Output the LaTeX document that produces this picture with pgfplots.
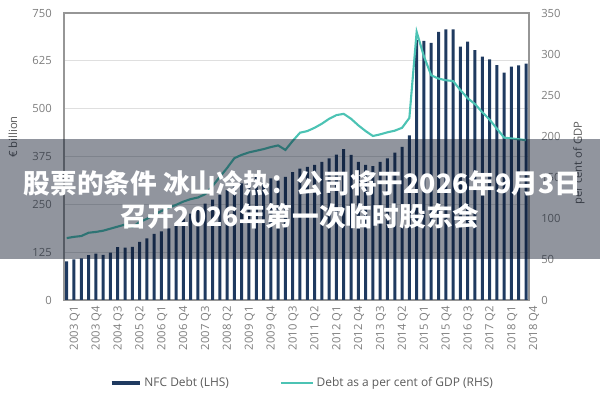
\documentclass[border=0pt]{standalone}
\usepackage{fontspec}
\setmainfont{Open Sans}
\newfontfamily\cjk{Noto Sans CJK SC}
\usepackage{pgfplots}
\usepackage{pgfplotstable}
\pgfplotsset{compat=1.18}

\definecolor{navy}{RGB}{31,58,96}
\definecolor{tealc}{RGB}{76,195,180}
\definecolor{tickgray}{RGB}{125,125,125}
\definecolor{txtgray}{RGB}{90,90,90}
\definecolor{frame}{RGB}{150,150,150}
\definecolor{banner}{RGB}{10,20,40}

% q = quarter index from 2003 Q1, debt in EUR bn, gdp in per cent
\pgfplotstableread{
q debt gdp
0 101 75.5
1 106 77
2 109 78
3 117 82
4 121 83
5 118 84.5
6 124 87
7 138 89.5
8 137 92
9 139 89
10 152 95
11 161 99
12 173 104
13 179 108.5
14 187 112.5
15 200 116
16 213 120
17 226 123
18 239 125
19 252 129
20 262 139
21 275 150
22 287 161
23 297 173
24 305 177
25 313 180
26 321 182
27 318 184
28 318 186.5
29 312 188.5
30 322 183
31 334 194
32 343 204
33 348 206
34 353 210
35 361 215
36 370 221
37 380 225.5
38 394 227
39 379 221
40 361 213
41 353 206
42 350 200
43 361 202
44 370 204.5
45 385 206.5
46 400 210
47 430 222
48 679 327
49 677 297
50 672 274
51 701 270
52 707 268
53 707 267
54 662 256
55 675 246
56 653 239
57 636 229
58 629 220
59 614 209
60 594 198
61 610 197
62 613 196
63 618 195
}\datatable

\begin{document}
\begin{tikzpicture}
\useasboundingbox (0,0) rectangle (15,10);
\pgfplotsset{
  common/.style={
    at={(1.6cm,2.5cm)}, anchor=south west,
    scale only axis, width=11.625cm, height=7.175cm,
    xmin=-0.37, xmax=63.41,
    tick style={draw=none},
    axis line style={draw=frame, line width=0.8pt},
    ticklabel style={font=\fontsize{8}{9}\selectfont, text=tickgray},
    /pgf/number format/assume math mode=true,
  }
}
\begin{axis}[common,
  ybar, bar width=0.075cm,
  ymin=0, ymax=750, ytick={0,125,...,750},
  ymajorgrids, grid style={draw=gray!25, line width=0.6pt},
  xtick={0,3,...,63},
  xticklabels={2003 Q1,2003 Q4,2004 Q3,2005 Q2,2006 Q1,2006 Q4,2007 Q3,2008 Q2,2009 Q1,2009 Q4,2010 Q3,2011 Q2,2012 Q1,2012 Q4,2013 Q3,2014 Q2,2015 Q1,2015 Q4,2016 Q3,2017 Q2,2018 Q1,2018 Q4},
  xticklabel style={rotate=90, anchor=east, inner sep=0pt, yshift=-0.2cm},
  yticklabel style={anchor=east, inner sep=0pt, xshift=-0.3cm},
  ylabel={€ billion},
  ylabel style={at={(axis description cs:-0.11,0.568)}, anchor=center, font=\fontsize{8}{9}\selectfont, text=txtgray},
]
\addplot[fill=navy, draw=none] table[x=q, y=debt] {\datatable};
\end{axis}
\begin{axis}[common,
  axis y line*=right, axis x line=none,
  ymin=0, ymax=350, ytick={0,50,...,350},
  yticklabel style={anchor=west, inner sep=0pt, xshift=0.3cm},
  ylabel={per cent of GDP},
  ylabel style={at={(axis description cs:1.1075,0.477)}, anchor=center, font=\fontsize{8}{9}\selectfont, text=txtgray},
  legend style={at={(axis description cs:0.088,-0.288)}, anchor=west, draw=none, fill=none,
    font=\fontsize{8.5}{10}\selectfont, text=txtgray, legend columns=2,
    /tikz/every even column/.append style={column sep=1.2cm}},
]
\addlegendimage{legend image code/.code={\draw[navy, line width=3pt] (0cm,0cm) -- (0.7cm,0cm);}}
\addlegendentry{NFC Debt (LHS)}
\addplot[tealc, line width=1.5pt, mark=none,
  legend image code/.code={\draw[tealc, line width=1.5pt] (0cm,0cm) -- (0.8cm,0cm);}]
  table[x=q, y=gdp] {\datatable};
\addlegendentry{Debt as a per cent of GDP (RHS)}
\end{axis}
\fill[banner, opacity=0.45] (0,3.525) rectangle (15,6.525);
\node[text=white, font=\cjk\bfseries\fontsize{19}{22}\selectfont] at (7.5625,5.425) {股票的条件 冰山冷热：公司将于2026年9月3日};
\node[text=white, font=\cjk\bfseries\fontsize{19}{22}\selectfont] at (7.5,4.6) {召开2026年第一次临时股东会};
\end{tikzpicture}
\end{document}
